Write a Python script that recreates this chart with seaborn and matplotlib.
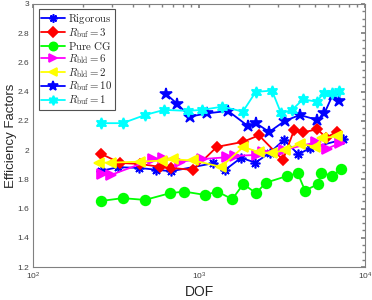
import numpy as np
import pandas as pd
import matplotlib
matplotlib.use("Agg")
import matplotlib.pyplot as plt
import seaborn as sns

# ---- data (DOF, efficiency factor) ----
rig_dof = [257, 327, 432, 547, 678, 1219, 1435, 1791, 2188, 2677, 3252, 3966, 4664, 7393]
rig_eff = [1.858, 1.883, 1.878, 1.866, 1.855, 1.910, 1.864, 1.947, 1.914, 1.983, 2.070, 1.971, 2.013, 2.073]

buf3_dof = [257, 334, 441, 582, 678, 920, 1282, 1841, 2296, 3206, 3735, 4233, 5176, 5821, 6817]
buf3_eff = [1.974, 1.912, 1.905, 1.885, 1.878, 1.864, 2.022, 2.056, 2.101, 1.933, 2.135, 2.121, 2.143, 2.084, 2.127]

cg_dof = [257, 347, 473, 668, 815, 1087, 1289, 1587, 1849, 2205, 2533, 3404, 3933, 4352, 5238, 5432, 6355, 7161]
cg_eff = [1.652, 1.671, 1.659, 1.705, 1.716, 1.693, 1.716, 1.664, 1.768, 1.705, 1.777, 1.823, 1.842, 1.723, 1.768, 1.846, 1.823, 1.869]

bld6_dof = [260, 295, 530, 607, 768, 1042, 1468, 1648, 2227, 2430, 3252, 5070, 5873, 7063]
bld6_eff = [1.837, 1.830, 1.938, 1.945, 1.921, 1.938, 1.951, 1.960, 1.967, 1.990, 2.001, 2.053, 2.008, 2.047]

bld2_dof = [250, 295, 441, 598, 697, 924, 1357, 1853, 2306, 2740, 3297, 4055, 4999, 5512, 6817]
bld2_eff = [1.914, 1.914, 1.921, 1.928, 1.936, 1.929, 1.885, 2.022, 1.984, 1.979, 2.001, 2.042, 2.024, 2.082, 2.094]

buf10_dof = [632, 739, 880, 1119, 1495, 1970, 2220, 2648, 3284, 4050, 5174, 5702, 6390, 7000]
buf10_eff = [2.384, 2.316, 2.229, 2.251, 2.268, 2.165, 2.182, 2.124, 2.199, 2.240, 2.206, 2.252, 2.377, 2.336]

buf1_dof = [257, 346, 473, 616, 858, 1038, 1385, 1838, 2196, 2753, 3125, 3634, 4237, 5124, 5657, 6309, 6977]
buf1_eff = [2.184, 2.184, 2.240, 2.275, 2.268, 2.275, 2.297, 2.263, 2.398, 2.407, 2.251, 2.275, 2.347, 2.331, 2.391, 2.388, 2.407]

series = [
    (r"$\mathrm{Rigorous}$", rig_dof, rig_eff, "#0000ff", (8, 2, 0), 7),
    (r"$R_{\mathrm{buf}} = 3$", buf3_dof, buf3_eff, "#ff0000", "D", 5.5),
    (r"$\mathrm{Pure\ CG}$", cg_dof, cg_eff, "#00ff00", "o", 7),
    (r"$R_{\mathrm{bld}} = 6$", bld6_dof, bld6_eff, "#ff00ff", ">", 7),
    (r"$R_{\mathrm{bld}} = 2$", bld2_dof, bld2_eff, "#ffff00", "<", 7),
    (r"$R_{\mathrm{buf}} = 10$", buf10_dof, buf10_eff, "#0000ff", "*", 9),
    (r"$R_{\mathrm{buf}} = 1$", buf1_dof, buf1_eff, "#00ffff", (6, 1, 0), 8),
]

sns.set_theme(style="white")
plt.rcParams["font.family"] = ["Liberation Sans", "DejaVu Sans"]
plt.rcParams["mathtext.fontset"] = "cm"
plt.rcParams["xtick.direction"] = "in"
plt.rcParams["ytick.direction"] = "in"

fig = plt.figure(figsize=(3.72, 3.0), dpi=100)
ax = fig.add_axes([0.089, 0.11, 0.892, 0.877])

for name, xs, ys, col, mk, ms in series:
    df = pd.DataFrame({"DOF": xs, "eff": ys})
    sns.lineplot(data=df, x="DOF", y="eff", ax=ax, color=col, marker=mk,
                 markersize=ms, markeredgecolor=col, markerfacecolor=col,
                 markeredgewidth=1.2, linewidth=1.3, label=name)

ax.set_xscale("log")
ax.set_xlim(100, 10000)
ax.set_ylim(1.2, 3.0)
ax.set_yticks(np.arange(1.2, 3.01, 0.2))
ax.set_yticklabels(["1.2", "1.4", "1.6", "1.8", "2", "2.2", "2.4", "2.6", "2.8", "3"])

edge = "#262626"
for sp in ax.spines.values():
    sp.set_color("#808080")
    sp.set_linewidth(0.8)
ax.tick_params(which="both", colors="#808080", labelcolor="#404040", labelsize=6,
               top=True, right=True, pad=3)
ax.tick_params(which="major", length=3)
ax.tick_params(which="minor", length=2)
ax.yaxis.set_minor_locator(matplotlib.ticker.MultipleLocator(0.05))

ax.set_xlabel("DOF", fontsize=10, color=edge, labelpad=2)
ax.set_ylabel("Efficiency Factors", fontsize=9.5, color=edge)
ax.yaxis.set_label_coords(-0.048, 0.5)

leg = ax.legend(loc="upper left", fontsize=7.8, frameon=True, fancybox=False,
                borderaxespad=0.5, handlelength=2.2, handletextpad=0.3,
                labelspacing=0.0, borderpad=0.25, markerscale=0.85)
leg.get_frame().set_edgecolor("#262626")
leg.get_frame().set_linewidth(0.8)

fig.savefig("out.png", dpi=100)
